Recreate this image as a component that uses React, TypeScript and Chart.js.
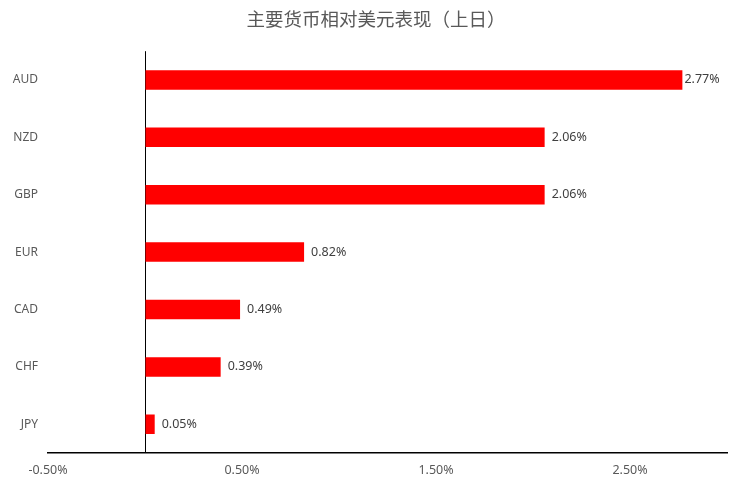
import React, { useEffect, useRef } from 'react';
import { Chart, registerables, ChartConfiguration, Plugin } from 'chart.js';

Chart.register(...registerables);

const title = '主要货币相对美元表现（上日）';
const currencies = ['AUD', 'NZD', 'GBP', 'EUR', 'CAD', 'CHF', 'JPY'];
const changes = [2.77, 2.06, 2.06, 0.82, 0.49, 0.39, 0.05];
const labelledTicks = [-0.5, 0.5, 1.5, 2.5];

const fontFamily = '"Noto Sans", "Noto Sans CJK SC", sans-serif';

// value labels at the end of each bar, kept inside the plot
const barLabels: Plugin<'bar'> = {
  id: 'barLabels',
  afterDatasetsDraw(chart) {
    const { ctx, chartArea } = chart;
    const meta = chart.getDatasetMeta(0);
    ctx.save();
    ctx.font = `12.5px ${fontFamily}`;
    ctx.fillStyle = '#404040';
    ctx.textBaseline = 'middle';
    ctx.textAlign = 'left';
    meta.data.forEach((bar: any, i: number) => {
      const text = changes[i].toFixed(2) + '%';
      const w = ctx.measureText(text).width;
      let x = bar.x + 7;
      if (x + w > chartArea.right - 4) x = bar.x + 2;
      ctx.fillText(text, x, bar.y);
    });
    ctx.restore();
  },
};

const App: React.FC = () => {
  const chartRef = useRef<HTMLCanvasElement>(null);
  const chartInstance = useRef<Chart | null>(null);

  useEffect(() => {
    if (!chartRef.current) return;
    const ctx = chartRef.current.getContext('2d');
    if (!ctx) return;

    const config: ChartConfiguration<'bar'> = {
      type: 'bar',
      data: {
        labels: currencies,
        datasets: [
          {
            label: 'change',
            data: changes,
            backgroundColor: '#ff0000',
            borderWidth: 0,
            barPercentage: 0.34,
            categoryPercentage: 1,
          },
        ],
      },
      options: {
        indexAxis: 'y',
        animation: false,
        responsive: true,
        maintainAspectRatio: false,
        layout: { padding: 0 },
        plugins: {
          legend: { display: false },
          tooltip: { enabled: false },
          title: {
            display: true,
            text: title,
            color: '#595959',
            font: { size: 18.5, family: fontFamily, weight: 'normal' },
            padding: { top: 10, bottom: 19 },
          },
        },
        scales: {
          x: {
            min: -0.5,
            max: 3,
            border: { display: true, color: '#000000', width: 1.5 },
            grid: {
              drawTicks: false,
              color: (c: any) => (c.tick && Math.abs(c.tick.value) < 1e-9 ? '#000000' : 'rgba(0,0,0,0)'),
              lineWidth: 1,
            },
            ticks: {
              stepSize: 0.5,
              autoSkip: false,
              maxRotation: 0,
              padding: 10,
              color: '#595959',
              font: { size: 12.5, family: fontFamily },
              callback: (value: any) => {
                const v = Number(value);
                return labelledTicks.some((t) => Math.abs(t - v) < 1e-9) ? v.toFixed(2) + '%' : '';
              },
            },
            afterFit: (scale: any) => {
              scale.height = 38;
            },
          },
          y: {
            border: { display: false },
            grid: { display: false, drawTicks: false },
            ticks: {
              padding: 10,
              color: '#595959',
              font: { size: 12, family: fontFamily },
            },
            afterFit: (scale: any) => {
              scale.width = 48;
            },
          },
          // empty right-hand margin so the title stays centred on the page
          yRight: {
            type: 'category',
            position: 'right',
            border: { display: false },
            grid: { display: false, drawTicks: false },
            ticks: { display: false },
            afterFit: (scale: any) => {
              scale.width = 25;
            },
          },
        },
      },
      plugins: [barLabels],
    };

    chartInstance.current = new Chart(ctx, config);

    return () => {
      if (chartInstance.current) {
        chartInstance.current.destroy();
      }
    };
  }, []);

  return (
    <div style={{ position: 'fixed', left: 0, top: 0, width: 752, height: 491, background: '#ffffff' }}>
      <canvas ref={chartRef} />
    </div>
  );
};

export default App;
